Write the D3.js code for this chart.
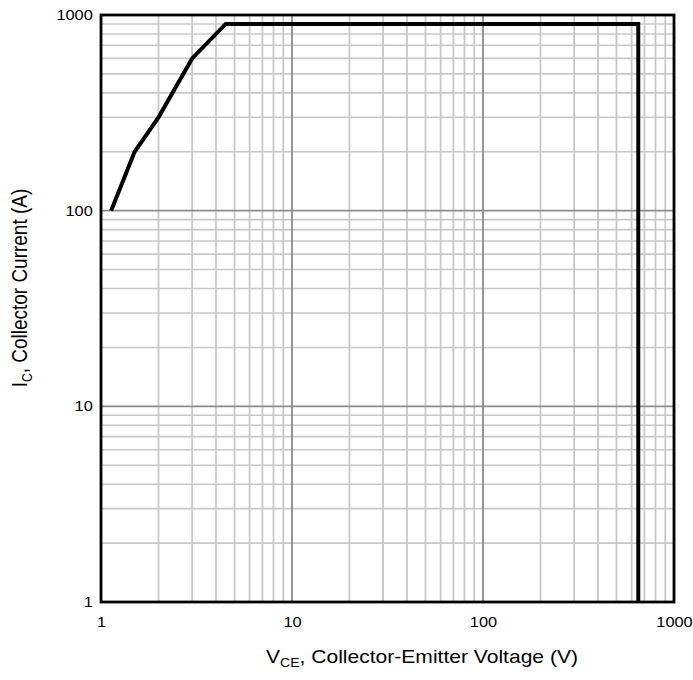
<!DOCTYPE html>
<html><head><meta charset="utf-8">
<script src="https://cdn.jsdelivr.net/npm/d3@7"></script>
<style>body{margin:0;background:#fff}svg{display:block}text{font-family:"Liberation Sans",Arial,sans-serif;fill:#000}</style>
</head><body>
<svg id="c" width="693" height="680"></svg>
<script>
const vce = [1.13, 1.5, 2, 3, 4.5, 650, 650];
const ic = [100, 200, 300, 600, 900, 900, 1];
const xTicks = [1, 10, 100, 1000];
const yTicks = [1, 10, 100, 1000];

const svg = d3.select("#c");
const L = 101, R = 674, T = 15, B = 602;
const SX = 1.17;
const x = d3.scaleLog().domain([1, 1000]).range([L, R]);
const y = d3.scaleLog().domain([1, 1000]).range([B, T]);

const minors = [];
for (let d = 1; d < 1000; d *= 10) for (let k = 2; k <= 9; k++) minors.push(d * k);
const g = svg.append("g");
g.selectAll(".vx").data(minors).enter().append("line")
  .attr("x1", d => x(d)).attr("x2", d => x(d)).attr("y1", T).attr("y2", B)
  .attr("stroke", "#c8c8c8").attr("stroke-width", 1.8);
g.selectAll(".hy").data(minors).enter().append("line")
  .attr("y1", d => y(d)).attr("y2", d => y(d)).attr("x1", L).attr("x2", R)
  .attr("stroke", "#c8c8c8").attr("stroke-width", 1.6);
g.selectAll(".vM").data([10, 100]).enter().append("line")
  .attr("x1", d => x(d)).attr("x2", d => x(d)).attr("y1", T).attr("y2", B)
  .attr("stroke", "#8c8c8c").attr("stroke-width", 1.8);
g.selectAll(".hM").data([10, 100]).enter().append("line")
  .attr("y1", d => y(d)).attr("y2", d => y(d)).attr("x1", L).attr("x2", R)
  .attr("stroke", "#8c8c8c").attr("stroke-width", 1.6);

svg.append("path").datum(vce.map((v, i) => [v, ic[i]]))
  .attr("d", d3.line().x(d => x(d[0])).y(d => y(d[1])))
  .attr("fill", "none").attr("stroke", "#000").attr("stroke-width", 4)
  .attr("stroke-linejoin", "miter");

svg.append("rect").attr("x", L).attr("y", T).attr("width", R - L).attr("height", B - T)
  .attr("fill", "none").attr("stroke", "#000").attr("stroke-width", 2.8);

const xa = svg.append("g").attr("transform", `translate(0,${B})`)
  .call(d3.axisBottom(x).tickValues(xTicks).tickFormat(d3.format("d")).tickSize(0).tickPadding(15));
xa.select(".domain").remove();
xa.selectAll("text").style("font-size", "14px").attr("font-family", null)
  .attr("transform", `scale(${SX},1)`);
const ya = svg.append("g").attr("transform", `translate(${L},0)`)
  .call(d3.axisLeft(y).tickValues(yTicks).tickFormat(d3.format("d")).tickSize(0).tickPadding(7));
ya.select(".domain").remove();
ya.selectAll("text").style("font-size", "14px").attr("font-family", null)
  .attr("transform", `scale(${SX},1)`);

const xt = svg.append("text").attr("transform", `translate(422,663) scale(${SX},1)`)
  .attr("text-anchor", "middle").style("font-size", "18px");
xt.append("tspan").text("V");
xt.append("tspan").text("CE").style("font-size", "12px").attr("dy", 4);
xt.append("tspan").text(", Collector-Emitter Voltage (V)").attr("dy", -4);

const yt = svg.append("text").attr("transform", `translate(27,288) scale(${SX},1) rotate(-90)`)
  .attr("text-anchor", "middle").style("font-size", "19px");
yt.append("tspan").text("I");
yt.append("tspan").text("C").style("font-size", "12px").attr("dy", 4);
yt.append("tspan").text(", Collector Current (A)").attr("dy", -4);
</script>
</body></html>
